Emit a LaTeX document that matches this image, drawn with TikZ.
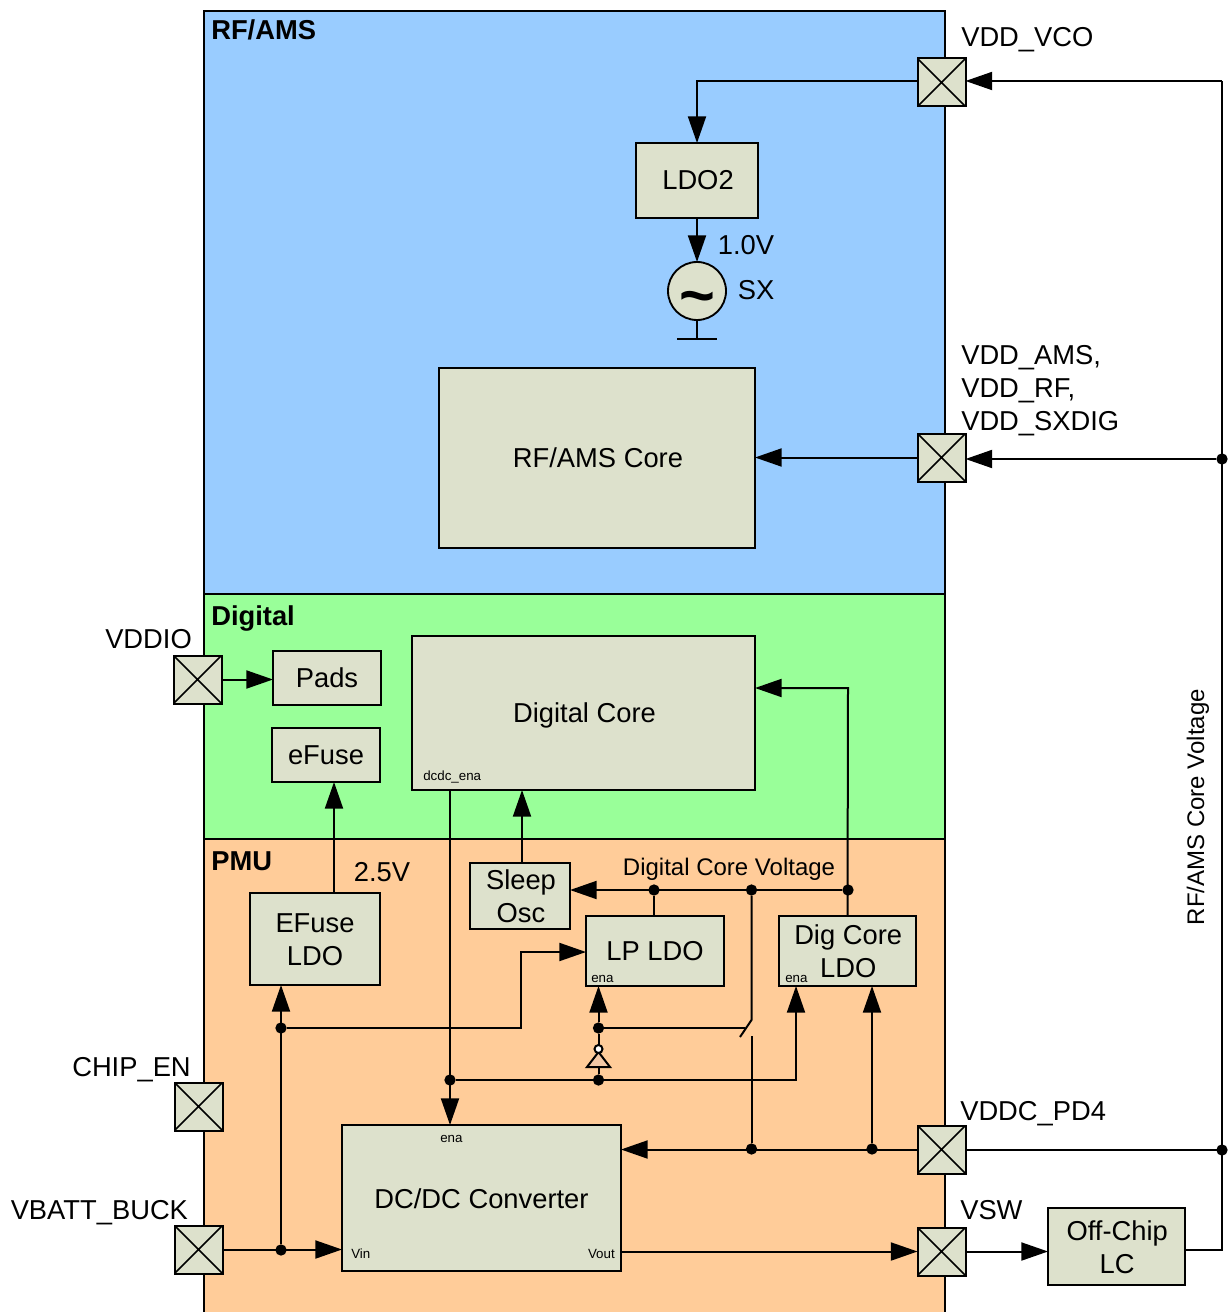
\documentclass[tikz,border=0pt]{standalone}
\usepackage{fontspec}
\setmainfont{Liberation Sans}
\usetikzlibrary{arrows.meta}
\definecolor{rfblue}{HTML}{99CCFF}
\definecolor{diggreen}{HTML}{99FF99}
\definecolor{pmuorange}{HTML}{FFCC99}
\definecolor{boxgrey}{HTML}{DDE1CC}
\definecolor{invpeach}{HTML}{F2C8A6}
\newcommand{\lowertext}[1]{\raisebox{-0.75pt}[\height][\depth]{#1}}
\tikzset{
  region/.style={draw=black,line width=1.9pt,anchor=north west,inner sep=0pt,outer sep=0pt},
  regionname/.style={anchor=west,inner sep=0pt,font=\fontsize{20.5}{24.75}\selectfont\bfseries},
  blockbox/.style={draw=black,line width=1.4pt,fill=boxgrey,inner sep=0pt,outer sep=0pt,align=center,font=\fontsize{20.5}{24.75}\selectfont},
  padbox/.style={draw=black,line width=1.5pt,fill=boxgrey,inner sep=0pt,outer sep=0pt,minimum width=36pt,minimum height=36pt,
    path picture={\draw[line width=1.2pt] (path picture bounding box.north west) -- (path picture bounding box.south east)
      (path picture bounding box.north east) -- (path picture bounding box.south west);}},
  sigtext/.style={inner sep=0pt,align=left,font=\fontsize{20.5}{24.75}\selectfont},
  voltstext/.style={inner sep=0pt,font=\fontsize{18}{22}\selectfont},
  smalltext/.style={inner sep=0pt,font=\fontsize{10}{12}\selectfont},
  jointdot/.style={circle,fill=black,inner sep=0pt,minimum size=8.5pt},
  wire/.style={line width=1.5pt},
  arrowwire/.style={wire,-{Triangle[length=20pt,width=13.5pt]}}
}
\begin{document}
\begin{tikzpicture}[x=0.75pt,y=0.75pt,yscale=-1]
\useasboundingbox (0,0) rectangle (1227,1312);

% Regions
\node (pmu) [region,fill=pmuorange,minimum width=555.75pt,minimum height=400pt] at (204,839) {};
\node (digital) [region,fill=diggreen,minimum width=555.75pt,minimum height=183.75pt] at (204,594) {};
\node (rfams) [region,fill=rfblue,minimum width=555.75pt,minimum height=437.25pt] at (204,11) {};
\node (rfamsname) [regionname] at (211,30) {RF/AMS};
\node (digitalname) [regionname] at (211,618) {Digital};
\node (pmuname) [regionname] at (211,861) {PMU};

% Blocks
\node (ldotwo) [blockbox,minimum width=91.5pt,minimum height=56.25pt] at (697,180.5) {\hspace{1.5pt}LDO2};
\node (rfcore) [blockbox,minimum width=237pt,minimum height=135pt] at (597,458) {\hspace{1.5pt}RF/AMS Core};
\node (pads) [blockbox,minimum width=81pt,minimum height=40.5pt] at (327,678) {Pads};
\node (efuse) [blockbox,minimum width=81pt,minimum height=40.5pt] at (326,755) {eFuse};
\node (digcore) [blockbox,minimum width=257.25pt,minimum height=115.5pt] at (583.5,713) {\hspace{1.5pt}\raisebox{-1.5pt}[\height][\depth]{Digital Core}};
\node (sleeposc) [blockbox,minimum width=75pt,minimum height=49.5pt] at (520,896) {\hspace{1.5pt}Sleep\\\hspace{1.5pt}Osc};
\node (efuseldo) [blockbox,minimum width=97.5pt,minimum height=69pt] at (315,939) {\lowertext{EFuse}\\\lowertext{LDO}};
\node (lpldo) [blockbox,minimum width=103.5pt,minimum height=52.5pt] at (655,951) {LP LDO};
\node (digldo) [blockbox,minimum width=102.75pt,minimum height=52.5pt] at (847.5,951) {\hspace{1pt}Dig Core\\\hspace{1pt}LDO};
\node (dcdc) [blockbox,minimum width=209.25pt,minimum height=109.5pt] at (481.5,1198) {\lowertext{DC/DC Converter}};
\node (offchip) [blockbox,minimum width=102.75pt,minimum height=57.75pt] at (1116.5,1246.5) {\hspace{1pt}\lowertext{Off-Chip}\\\hspace{1pt}\lowertext{LC}};

% Oscillator
\node (osc) [circle,draw=black,line width=1.4pt,fill=boxgrey,inner sep=0pt,outer sep=0pt,minimum size=43.5pt] at (697,291) {};
\node (tilde) [inner sep=0pt,font=\fontsize{46}{46}\selectfont\bfseries] at (697,304) {\textasciitilde};
\coordinate (gnd) at (697,339);
\draw [wire] (osc.south) -- (gnd);
\draw [wire] (677,339) -- (717,339);

% Pads
\node (padvco) [padbox] at (941.5,82.5) {};
\node (padams) [padbox] at (941.5,457.5) {};
\node (padio) [padbox] at (197.5,679.5) {};
\node (padchip) [padbox] at (198.5,1106.5) {};
\node (padbatt) [padbox] at (198.5,1249.5) {};
\node (padpd) [padbox] at (941.5,1149.5) {};
\node (padsw) [padbox] at (941.5,1251.5) {};

% Text Node
\node (vcotext) [sigtext,anchor=west] at (961,40) {VDD\_VCO};
\node (amstext) [sigtext,anchor=west] at (961,391) {VDD\_AMS,\\VDD\_RF,\\VDD\_SXDIG};
\node (iotext) [sigtext,anchor=west] at (105,639) {VDDIO};
\node (chiptext) [sigtext,anchor=west] at (72,1070) {CHIP\_EN};
\node (batttext) [sigtext,anchor=west] at (10.5,1213) {VBATT\_BUCK};
\node (pdtext) [sigtext,anchor=west] at (960,1114) {VDDC\_PD4};
\node (swtext) [sigtext,anchor=west] at (960,1210) {VSW};
\node (onevtext) [sigtext] at (746,245) {1.0V};
\node (sxtext) [sigtext] at (756,290) {SX};
\node (twovtext) [sigtext] at (382,872) {2.5V};
\node (dcvtext) [voltstext] at (729,869) {Digital Core Voltage};
\node (railtext) [voltstext,rotate=90] at (1198,807) {RF/AMS Core Voltage};
\node (dcdcenatext) [smalltext,anchor=west] at (423,777) {dcdc\_ena};
\node (lpenatext) [smalltext,anchor=west] at (591,979) {ena};
\node (digenatext) [smalltext,anchor=west] at (785,979) {ena};
\node (convenatext) [smalltext,anchor=west] at (440,1139) {ena};
\node (vintext) [smalltext,anchor=west] at (351,1254) {Vin};
\node (vouttext) [smalltext,anchor=east] at (615,1254) {Vout};

% Joints
\node (railams) [jointdot] at (1222,459) {};
\node (railpd) [jointdot] at (1222,1150) {};
\node (dcva) [jointdot] at (654,890) {};
\node (dcvb) [jointdot] at (751.5,890) {};
\node (dcvc) [jointdot] at (848,890) {};
\node (pdvc) [jointdot] at (751.5,1149) {};
\node (pddig) [jointdot] at (872,1149) {};
\node (enalp) [jointdot] at (598.5,1028) {};
\node (enainv) [jointdot] at (598.5,1080) {};
\node (enabus) [jointdot] at (450,1080) {};
\node (battleft) [jointdot] at (281,1250) {};
\node (battup) [jointdot] at (281,1028) {};
\coordinate (railtop) at (1222,81);
\coordinate (railend) at (1222,1250);
\coordinate (digin) at (848,688);
\coordinate (swtop) at (751.5,1020);
\coordinate (swend) at (740,1037);
\coordinate (swlow) at (751.5,1036);
\coordinate (swtap) at (745,1028);
\coordinate (lpin) at (521,952);
\coordinate (vcoin) at (697,81);
\coordinate (bubble) at (598.5,1049);
\coordinate (invtop) at (598.5,1052);
\coordinate (invbase) at (598.5,1067);

% RF/AMS wires
\draw [arrowwire] (padvco.west |- railtop) -- (vcoin) -- (ldotwo.north);
\draw [arrowwire] (ldotwo.south) -- (osc.north);
\draw [arrowwire] (padams.west) -- (padams.west -| rfcore.east);
\draw [arrowwire] (railtop) -- (railtop -| padvco.east);
\draw [arrowwire] (railams) -- (railams -| padams.east);
\draw [wire] (railtop) -- (railend) -- (railend -| offchip.east);
\draw [wire] (padpd.east) -- (padpd.east -| railpd);

% Digital wires
\draw [arrowwire] (padio.east) -- (padio.east -| pads.west);
\draw [arrowwire] (efuseldo.north -| 334,0) -- (efuse.south -| 334,0);
\draw [arrowwire] (sleeposc.north -| 522,0) -- (digcore.south -| 522,0);
\draw [arrowwire] (digldo.north) -- (digin) -- (digin -| digcore.east);

% PMU wires
\draw [arrowwire] (dcvc) -- (dcvc -| sleeposc.east);
\draw [wire] (dcva) -- (dcva |- lpldo.north);
\draw [wire] (dcvb) -- (swtop) -- (swend);
\draw [wire] (swlow) -- (pdvc);
\draw [wire] (enalp) -- (swtap);
\draw [arrowwire] (enalp) -- (enalp |- lpldo.south);
\draw [wire] (enalp) -- (bubble);
\draw [wire] (invbase) -- (enainv);
\draw [wire,fill=invpeach] (invtop) -- (587,1067) -- (610,1067) -- cycle;
\draw [wire,fill=white] (bubble) circle (3pt);
\draw [arrowwire] (enabus) -- (796,1080) -- (796,986);
\draw [arrowwire] (enabus |- digcore.south) -- (enabus |- dcdc.north);
\draw [arrowwire] (padpd.west) -- (padpd.west -| dcdc.east);
\draw [arrowwire] (pddig) -- (pddig |- digldo.south);
\draw [arrowwire] (padbatt.east) -- (padbatt.east -| dcdc.west);
\draw [arrowwire] (battleft) -- (battleft |- efuseldo.south);
\draw [arrowwire] (battup) -- (battup -| lpin) -- (lpin) -- (lpin -| lpldo.west);
\draw [arrowwire] (dcdc.east |- padsw.west) -- (padsw.west);
\draw [arrowwire] (padsw.east) -- (padsw.east -| offchip.west);

\end{tikzpicture}
\end{document}
